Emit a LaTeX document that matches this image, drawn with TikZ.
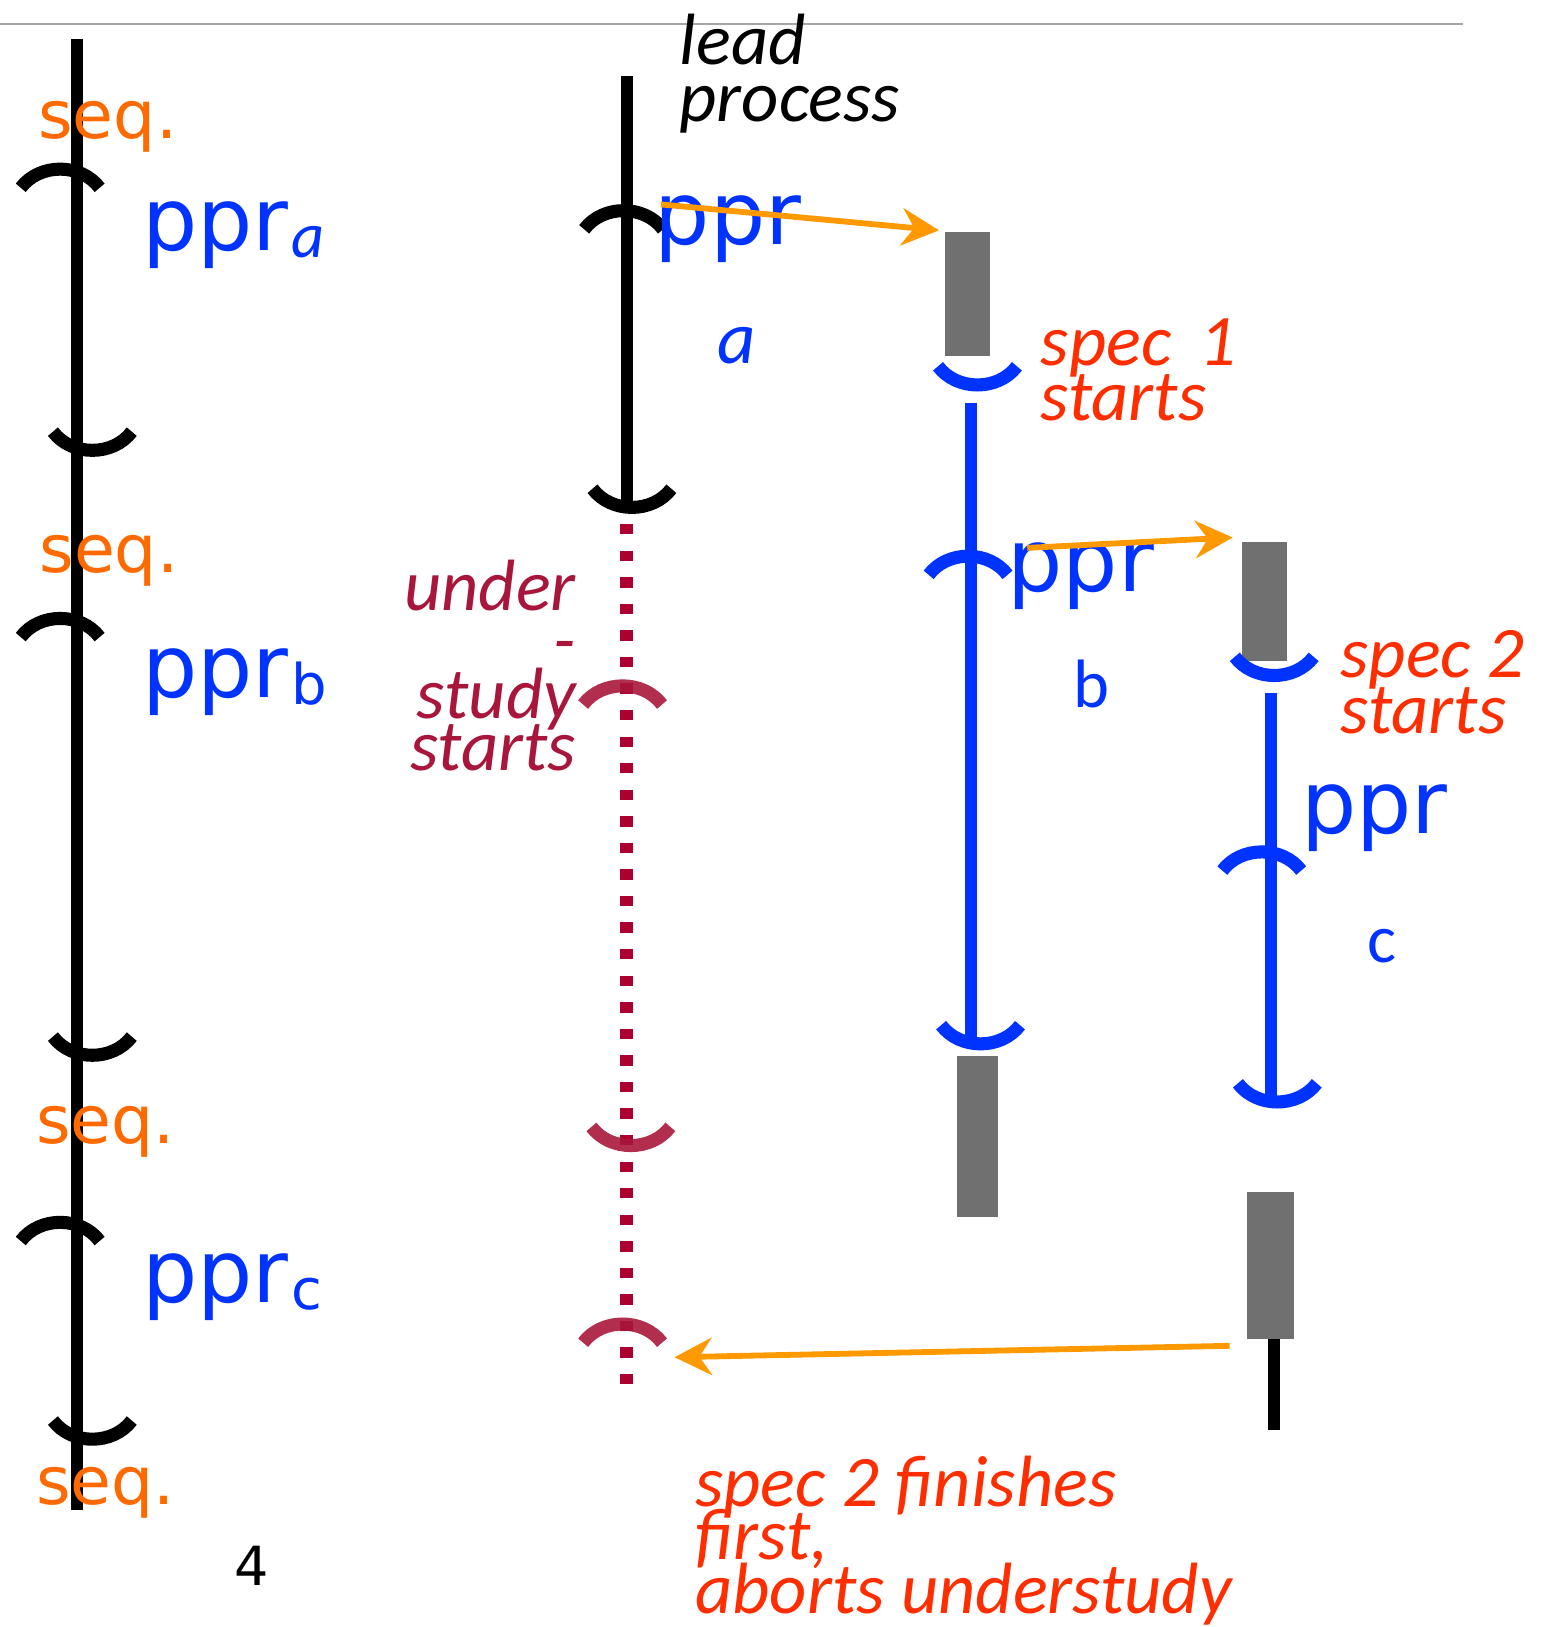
\documentclass[tikz,border=0pt]{standalone}
\usepackage{fontspec}
\setmainfont{DejaVu Sans}
\newfontfamily\capfont{Carlito}
\usetikzlibrary{arrows.meta}
\definecolor{seqor}{HTML}{FF6A00}
\definecolor{pblue}{HTML}{0033FF}
\definecolor{capred}{HTML}{FF2E00}
\definecolor{crim}{HTML}{A8173B}
\definecolor{dotred}{HTML}{AE0030}
\definecolor{boxgray}{HTML}{707070}
\definecolor{arrowor}{HTML}{FF9900}
\definecolor{rulegray}{HTML}{A6A6A6}
\newcommand\subsc[1]{\kern1.5pt\raisebox{-3.5pt}{\fontsize{27}{27}\selectfont #1}}
\newcommand\subit[1]{\kern1.5pt\raisebox{-3.5pt}{\capfont\itshape\fontsize{31}{31}\selectfont #1}}
\begin{document}
\begin{tikzpicture}[x=0.5pt,y=-0.5pt,line cap=butt,
  txt/.style={inner sep=0pt,outer sep=0pt,anchor=base west},
  seqt/.style={txt,text=seqor,font=\fontsize{32}{32}\selectfont},
  pprt/.style={txt,text=pblue,font=\fontsize{42}{42}\selectfont},
  capt/.style={txt,font=\capfont\itshape\fontsize{35}{35}\selectfont},
  capr/.style={capt,anchor=base east},
  labt/.style={txt,text=pblue,font=\capfont\fontsize{33}{33}\selectfont},
  gbox/.style={fill=boxgray,inner sep=0pt,outer sep=0pt,anchor=north west},
  vline/.style={line width=6pt},
  dotline/.style={line width=6.5pt,dotred,dash pattern=on 5pt off 7.8pt},
  oarrow/.style={draw=arrowor,line width=2.8pt,-{Stealth[length=18pt,width=18pt,inset=6pt]}},
  opn/.pic={\draw[line width=6.3pt] (-38,18) .. controls (-20,-6) and (20,-6) .. (38,18);},
  cls/.pic={\draw[line width=6.3pt] (-38,-18) .. controls (-20,6) and (20,6) .. (38,-18);}
]
\useasboundingbox (0,0) rectangle (1502,1568);

% top rule
\coordinate (r1) at (0,23);
\coordinate (r2) at (1410,23);
\draw[rulegray,line width=1pt] (r1) -- (r2);

% ---------- left column ----------
\coordinate (L1) at (74,38);
\coordinate (L2) at (74,1455);
\draw[vline] (L1) -- (L2);
\node[seqt] (seq1) at (37,133) {seq.};
\node[seqt] (seq2) at (38,552) {seq.};
\node[seqt] (seq3) at (35,1102) {seq.};
\node[seqt] (seq4) at (35,1450) {seq.};
\pic at (58,163) {opn};
\pic at (89,434) {cls};
\pic at (58,596) {opn};
\pic at (89,1017) {cls};
\pic at (58,1178) {opn};
\pic at (89,1387) {cls};
\node[pprt] (ppra) at (137,241) {ppr\subit{a}};
\node[pprt] (pprb) at (137,672) {ppr\subsc{b}};
\node[pprt] (pprc) at (137,1255) {ppr\subsc{c}};
\node[txt,font=\fontsize{26}{26}\selectfont] (pnum) at (226,1528) {4};

% ---------- lead process ----------
\node[capt] (lead1) at (655,62) {lead};
\node[capt] (lead2) at (655,117) {process};
\coordinate (M1) at (604,73);
\coordinate (M2) at (604,489);
\draw[vline] (M1) -- (M2);
\pic at (601,203) {opn};
\pic at (609,489) {cls};
\node[pprt] (pprA) at (631,236) {ppr};
\node[labt,font=\capfont\itshape\fontsize{36}{36}\selectfont] (la) at (691,350) {a};

% understudy
\coordinate (D1) at (604,505);
\coordinate (D2) at (604,1338);
\draw[dotline] (D1) -- (D2);
\pic[crim,opacity=0.9] at (600,661) {opn};
\pic[crim,opacity=0.9] at (608,1104) {cls};
\pic[crim,opacity=0.9] at (600,1276) {opn};
\node[capr,text=crim] (u1) at (555,588) {under};
\node[capr,text=crim] (u2) at (555,640) {-};
\node[capr,text=crim] (u3) at (555,692) {study};
\node[capr,text=crim] (u4) at (555,743) {starts};

% ---------- spec 1 ----------
\node[gbox,minimum width=21.5pt,minimum height=59.5pt] (box1) at (911,224) {};
\pic[pblue] at (942,371) {cls};
\coordinate (S1a) at (936,388);
\coordinate (S1b) at (936,1006);
\draw[vline,pblue] (S1a) -- (S1b);
\pic[pblue] at (933,536) {opn};
\pic[pblue] at (945,1006) {cls};
\node[gbox,minimum width=20pt,minimum height=77.5pt] (box1b) at (922,1018) {};
\node[capt,text=capred] (s1a) at (1003,352) {spec\, 1};
\node[capt,text=capred] (s1b) at (1003,405) {starts};
\node[pprt] (pprB) at (971,570) {ppr};
\node[labt] (lb) at (1035,682) {b};

% ---------- spec 2 ----------
\node[gbox,minimum width=21.5pt,minimum height=57.5pt] (box2) at (1197,522) {};
\pic[pblue] at (1228,651) {cls};
\coordinate (S2a) at (1225,668);
\coordinate (S2b) at (1225,1062);
\draw[vline,pblue] (S2a) -- (S2b);
\pic[pblue] at (1216,821) {opn};
\pic[pblue] at (1231,1062) {cls};
\node[capt,text=capred] (s2a) at (1292,653) {spec 2};
\node[capt,text=capred] (s2b) at (1292,707) {starts};
\node[pprt] (pprC) at (1254,803) {ppr};
\node[labt] (lc) at (1318,928) {c};
\node[gbox,minimum width=22.5pt,minimum height=70.5pt] (box3) at (1202,1149) {};
\coordinate (K2) at (1228,1378);
\draw[vline] (box3.south -| K2) -- (K2);

% ---------- arrows ----------
\coordinate (a1s) at (637,197);
\draw[oarrow] (a1s) -- ([shift={(-6,-2)}]box1.north west);
\coordinate (a2s) at (990,528);
\draw[oarrow] (a2s) -- ([shift={(-9,-4)}]box2.north west);
\coordinate (a3e) at (650,1308);
\draw[oarrow] ([shift={(-17,7)}]box3.south west) -- (a3e);

% bottom caption
\node[capt,text=capred] (f1) at (670,1452) {spec 2 finishes};
\node[capt,text=capred] (f2) at (670,1503) {first,};
\node[capt,text=capred] (f3) at (670,1555) {aborts understudy};
\end{tikzpicture}
\end{document}
